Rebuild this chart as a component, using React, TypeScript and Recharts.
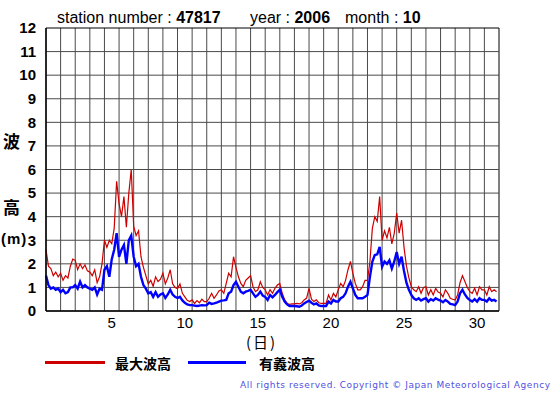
import React from "react";
import { LineChart, Line, XAxis, YAxis, ReferenceLine } from "recharts";

// sampling hours within each day
const hours = [0, 4, 8, 12, 16, 20];

// 最大波高 (m), one row per day, 6 readings per day
const maxWave = [
  [2.6, 1.9, 1.8, 1.5, 1.65, 1.45],
  [1.6, 1.3, 1.5, 1.4, 1.9, 2.2],
  [2.15, 1.75, 2.0, 1.8, 1.95, 1.7],
  [1.65, 1.5, 1.75, 1.2, 1.45, 2.0],
  [3.0, 2.7, 3.0, 2.85, 3.5, 5.5],
  [4.55, 4.0, 4.85, 3.55, 5.0, 6.0],
  [3.6, 3.2, 3.4, 2.3, 1.85, 1.5],
  [1.15, 1.3, 1.05, 1.45, 1.25, 1.35],
  [1.6, 1.15, 1.4, 1.75, 1.15, 1.0],
  [0.95, 1.15, 0.75, 0.6, 0.45, 0.4],
  [0.47, 0.32, 0.44, 0.35, 0.5, 0.4],
  [0.4, 0.54, 0.75, 0.54, 0.68, 0.85],
  [0.9, 0.75, 1.17, 1.6, 1.45, 2.3],
  [1.85, 1.45, 1.17, 1.03, 1.3, 1.4],
  [1.5, 1.03, 0.82, 0.9, 1.24, 1.0],
  [0.9, 0.68, 0.9, 0.75, 0.96, 1.1],
  [1.17, 0.75, 0.47, 0.32, 0.28, 0.3],
  [0.3, 0.32, 0.3, 0.35, 0.47, 0.55],
  [0.96, 0.5, 0.4, 0.47, 0.35, 0.32],
  [0.32, 0.32, 0.68, 0.47, 0.75, 0.6],
  [0.9, 1.17, 1.03, 1.3, 1.75, 2.1],
  [1.6, 1.17, 0.9, 0.9, 1.03, 1.3],
  [1.3, 2.1, 3.5, 4.0, 3.8, 4.85],
  [3.0, 3.4, 3.1, 3.55, 2.85, 3.3],
  [4.15, 3.3, 3.85, 2.7, 1.9, 1.4],
  [1.03, 0.9, 0.82, 1.03, 0.75, 1.0],
  [1.03, 0.68, 0.9, 0.68, 0.96, 0.8],
  [0.75, 0.6, 0.9, 0.75, 0.54, 0.5],
  [0.47, 0.68, 1.2, 1.5, 1.25, 1.0],
  [0.82, 0.75, 0.96, 0.68, 1.03, 0.9],
  [0.9, 0.68, 1.03, 0.82, 0.9, 0.82],
];

// 有義波高 (m)
const sigWave = [
  [1.5, 1.1, 0.95, 1.0, 0.9, 0.95],
  [0.8, 0.9, 0.75, 0.8, 1.0, 1.0],
  [1.1, 0.95, 1.25, 1.0, 1.1, 1.0],
  [0.95, 0.9, 1.0, 0.7, 0.95, 0.9],
  [1.75, 1.9, 1.45, 2.2, 2.6, 3.3],
  [2.3, 2.6, 2.8, 2.0, 3.0, 3.2],
  [2.3, 1.9, 2.0, 1.45, 1.1, 0.95],
  [0.75, 0.8, 0.6, 0.8, 0.6, 0.7],
  [0.75, 0.55, 0.7, 0.9, 0.7, 0.6],
  [0.55, 0.6, 0.45, 0.35, 0.28, 0.25],
  [0.25, 0.23, 0.21, 0.23, 0.25, 0.24],
  [0.25, 0.35, 0.3, 0.32, 0.35, 0.4],
  [0.44, 0.45, 0.47, 0.75, 0.82, 1.1],
  [1.24, 1.03, 0.82, 0.75, 0.82, 0.85],
  [0.9, 0.75, 0.6, 0.68, 0.82, 0.65],
  [0.6, 0.47, 0.68, 0.58, 0.68, 0.8],
  [0.9, 0.6, 0.4, 0.28, 0.21, 0.21],
  [0.21, 0.2, 0.18, 0.23, 0.32, 0.38],
  [0.44, 0.35, 0.28, 0.32, 0.24, 0.21],
  [0.21, 0.21, 0.4, 0.32, 0.47, 0.4],
  [0.4, 0.54, 0.6, 0.75, 1.03, 1.24],
  [0.96, 0.68, 0.54, 0.54, 0.54, 0.6],
  [0.68, 1.45, 2.1, 2.37, 2.4, 2.72],
  [1.88, 2.1, 2.0, 2.15, 1.8, 2.1],
  [2.5, 2.0, 2.3, 1.7, 1.2, 0.9],
  [0.68, 0.54, 0.47, 0.54, 0.44, 0.5],
  [0.54, 0.4, 0.5, 0.44, 0.54, 0.48],
  [0.44, 0.37, 0.47, 0.4, 0.3, 0.28],
  [0.25, 0.4, 0.75, 0.9, 0.7, 0.55],
  [0.47, 0.4, 0.5, 0.4, 0.54, 0.47],
  [0.47, 0.4, 0.54, 0.44, 0.47, 0.4],
];

const dayLabels = [5, 10, 15, 20, 25, 30];
const yTicks = [0, 1, 2, 3, 4, 5, 6, 7, 8, 9, 10, 11, 12];

const data = maxWave.flatMap((row, d) =>
  row.map((v, j) => ({ t: d + hours[j] / 24, max: v, sig: sigWave[d][j] }))
);

const gridDays = Array.from({ length: 32 }, (_, i) => i);

const sans = "'Liberation Sans', Arial, sans-serif";
const cjk = "'Noto Sans CJK JP', sans-serif";

const abs = (left: number, top: number, extra: React.CSSProperties = {}): React.CSSProperties => ({
  position: "absolute",
  left,
  top,
  whiteSpace: "nowrap",
  lineHeight: 1,
  ...extra,
});

export default function App() {
  return (
    <div style={{ position: "absolute", left: 0, top: 0, width: 555, height: 395, background: "#fff" }}>
      <LineChart
        width={555}
        height={395}
        data={data}
        margin={{ top: 28, right: 56, left: 0, bottom: 64 }}
      >
        <XAxis
          dataKey="t"
          type="number"
          domain={[0, 31]}
          ticks={dayLabels.map((d) => d - 0.5)}
          tickFormatter={(v) => String(Math.round(v + 0.5))}
          tickLine={false}
          axisLine={{ stroke: "#000", strokeWidth: 1.5 }}
          tick={{ fill: "#000", fontSize: 15, fontFamily: sans }}
          tickMargin={0}
          height={20}
        />
        <YAxis
          type="number"
          domain={[0, 12]}
          ticks={yTicks}
          interval={0}
          tickLine={false}
          axisLine={{ stroke: "#000", strokeWidth: 1.5 }}
          tick={{ fill: "#000", fontSize: 15, fontWeight: "bold", fontFamily: sans }}
          tickMargin={4}
          width={46}
        />
        {gridDays.map((d) => (
          <ReferenceLine key={"x" + d} x={d} stroke={d === 31 ? "#000" : "#4a4a4a"} strokeWidth={1} />
        ))}
        {yTicks.map((v) => (
          <ReferenceLine key={"y" + v} y={v} stroke={v === 12 ? "#000" : "#4a4a4a"} strokeWidth={1} />
        ))}
        <Line
          type="linear"
          dataKey="max"
          stroke="#cc0000"
          strokeWidth={1.2}
          dot={false}
          isAnimationActive={false}
        />
        <Line
          type="linear"
          dataKey="sig"
          stroke="#0000ff"
          strokeWidth={2.4}
          dot={false}
          isAnimationActive={false}
        />
      </LineChart>

      <div style={abs(57, 10, { fontFamily: sans, fontSize: 16 })}>
        station number : <span style={{ fontWeight: 600 }}>47817</span>
      </div>
      <div style={abs(250, 10, { fontFamily: sans, fontSize: 16 })}>
        year : <b>2006</b>
      </div>
      <div style={abs(345, 10, { fontFamily: sans, fontSize: 16 })}>
        month : <b>10</b>
      </div>

      <div style={abs(3, 132, { fontFamily: cjk, fontSize: 17, fontWeight: "bold" })}>波</div>
      <div style={abs(3, 198, { fontFamily: cjk, fontSize: 17, fontWeight: "bold" })}>高</div>
      <div style={abs(1, 231, { fontFamily: sans, fontSize: 15, fontWeight: "bold", letterSpacing: 1 })}>(m)</div>

      <div style={abs(246, 334, { fontFamily: cjk, fontSize: 15, letterSpacing: 2 })}>(日)</div>

      <div style={abs(45, 361, { width: 60, height: 3, background: "#cc0000" })} />
      <div style={abs(115, 356, { fontFamily: cjk, fontSize: 14, fontWeight: "bold" })}>最大波高</div>
      <div style={abs(188, 361, { width: 58, height: 3, background: "#0000ff" })} />
      <div style={abs(259, 356, { fontFamily: cjk, fontSize: 14, fontWeight: "bold" })}>有義波高</div>

      <svg style={{ position: "absolute", left: 0, top: 0 }} width={555} height={395} pointerEvents="none">
        <text x={240} y={388} textLength={310} lengthAdjust="spacing" fontFamily="'DejaVu Sans', sans-serif" fontSize={9} fill="#5050e0">
          All rights reserved. Copyright © Japan Meteorological Agency
        </text>
      </svg>
    </div>
  );
}
